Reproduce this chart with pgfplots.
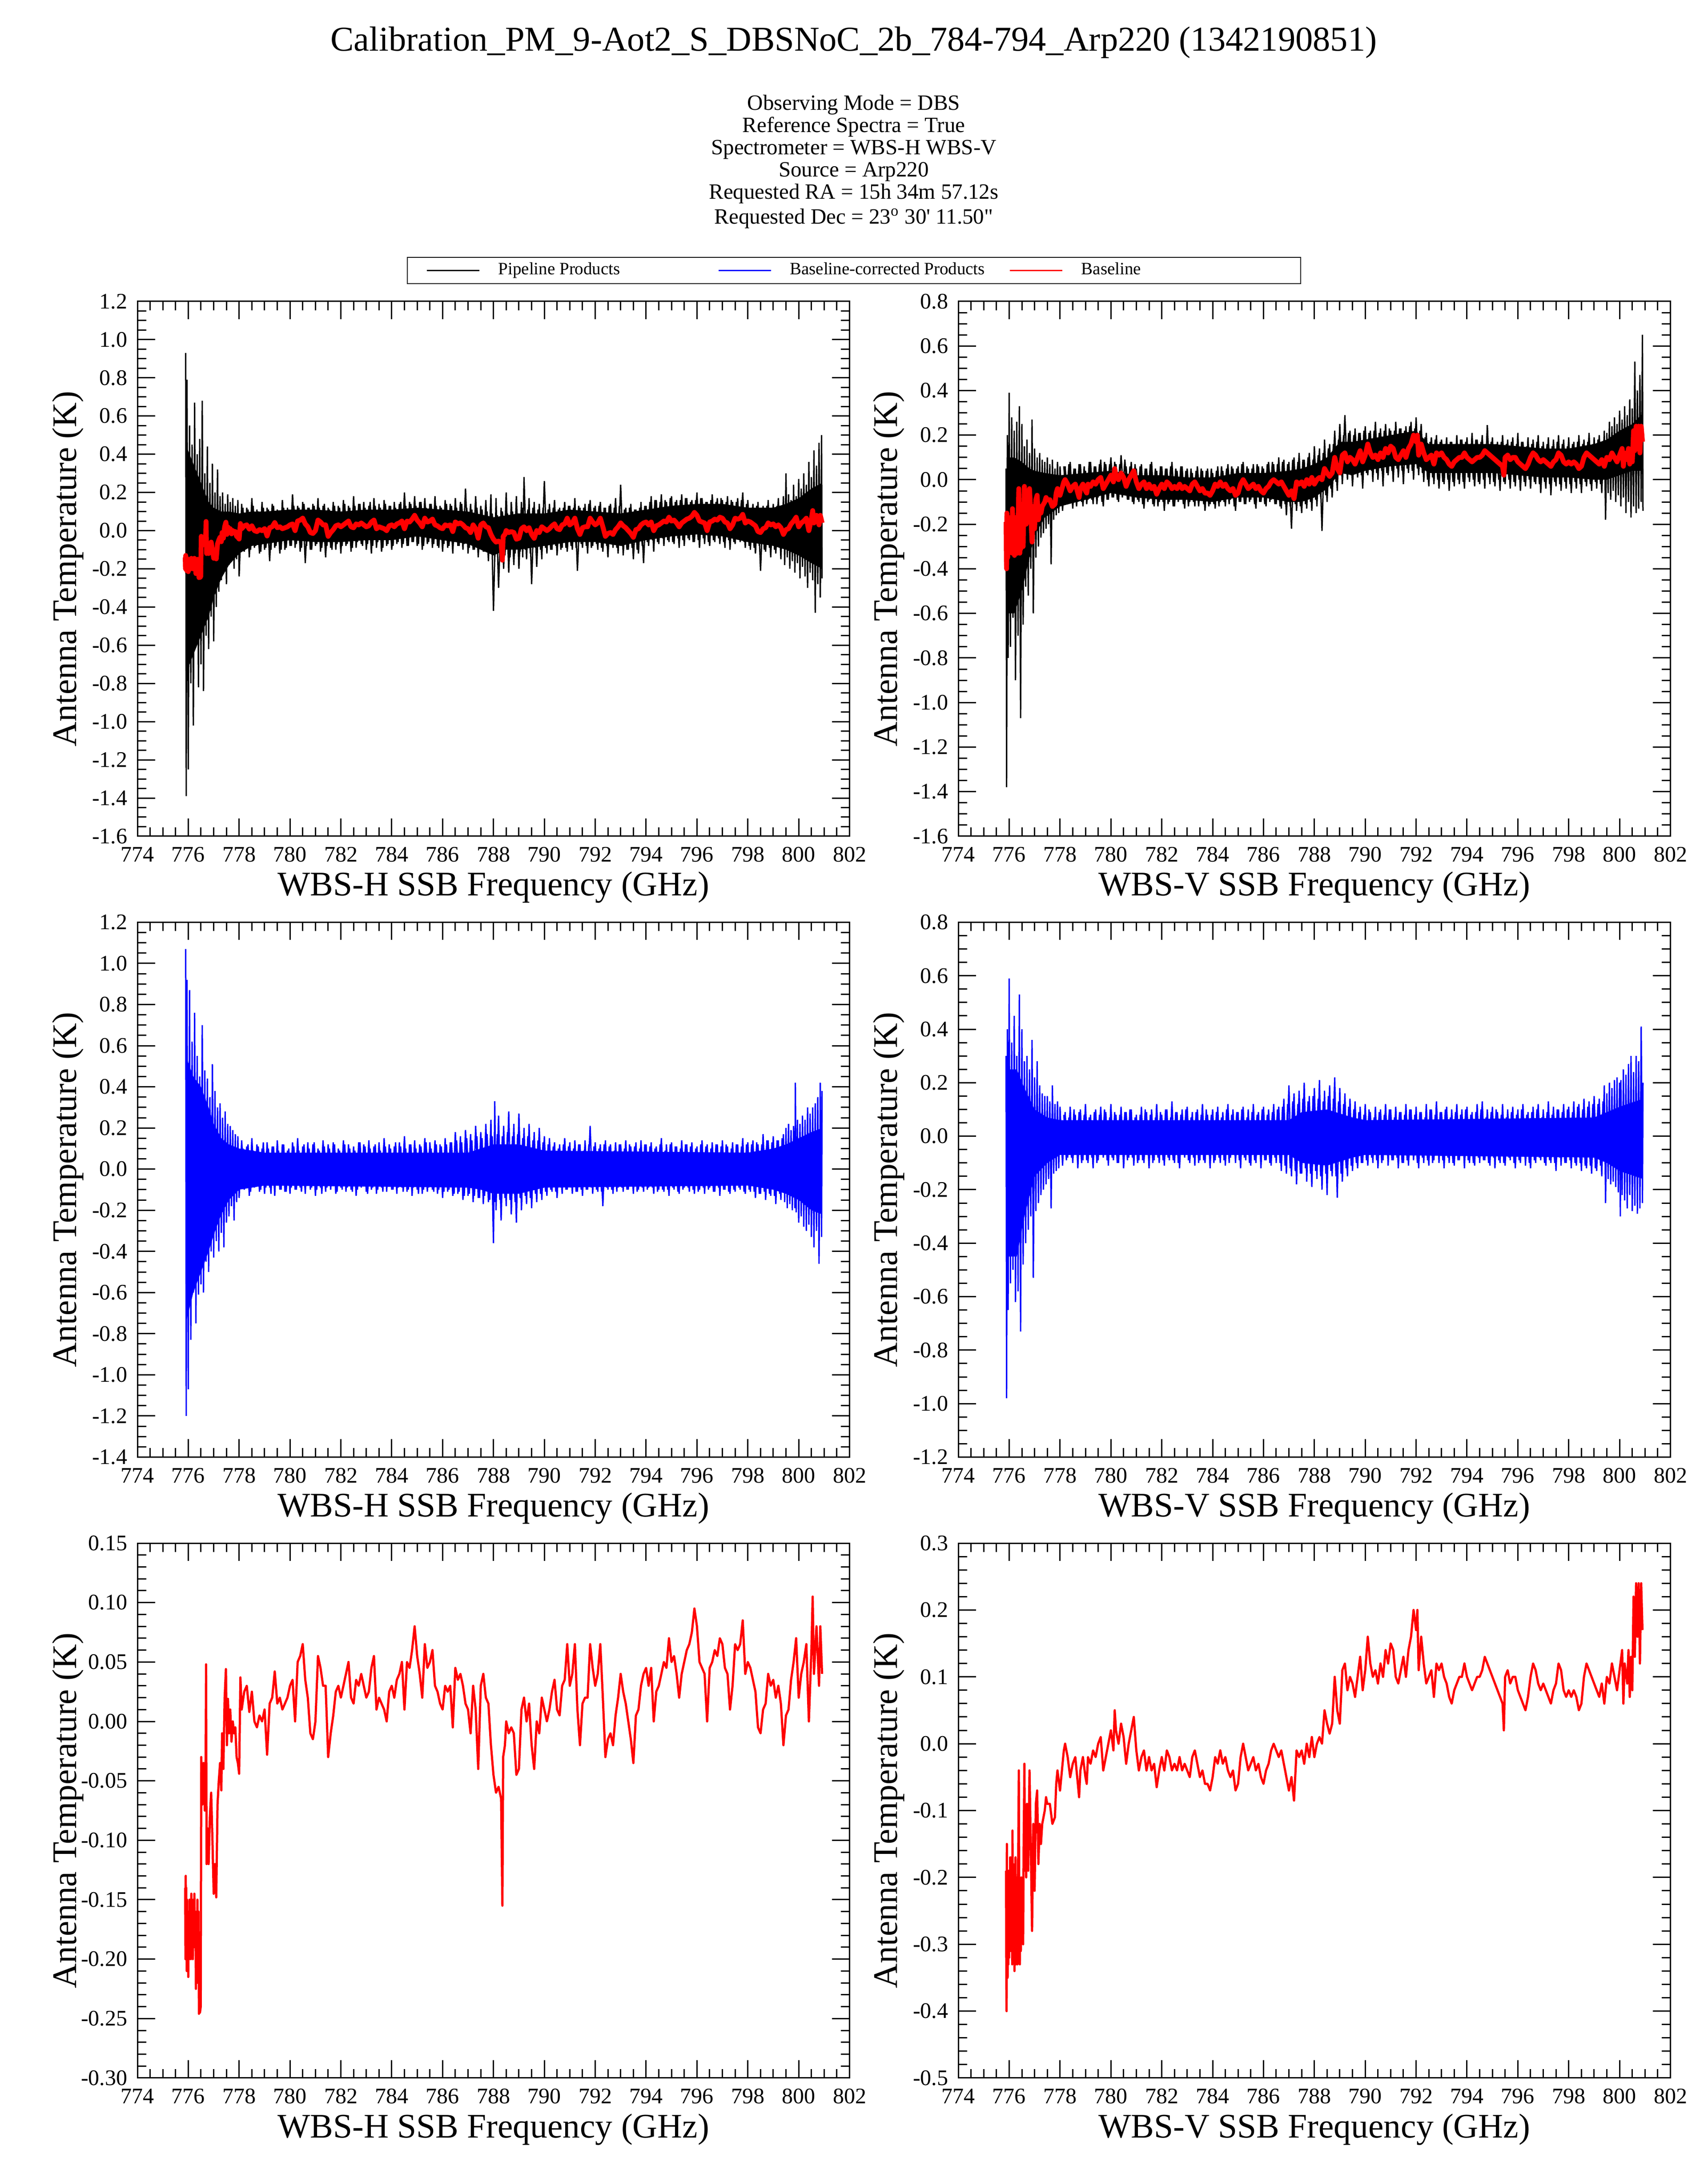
\documentclass[border=0pt]{standalone}
\usepackage{fontspec}
\setmainfont{Liberation Serif}
\newfontfamily\rawserif{Liberation Serif}
\usepackage{pgfplots}
\pgfplotsset{compat=1.18}
\usepackage{pgfplotstable}

% ---------------- baselines ----------------
\pgfplotstableread[row sep=\\]{
x y\\
775.88 -0.14\\ 775.89 -0.20\\ 775.90 -0.13\\ 775.91 -0.19\\ 775.92 -0.14\\ 775.94 -0.21\\ 775.95 -0.15\\ 775.97 -0.20\\
775.98 -0.16\\ 776.00 -0.215\\ 776.02 -0.16\\ 776.04 -0.20\\ 776.05 -0.15\\ 776.07 -0.19\\ 776.09 -0.16\\ 776.10 -0.20\\
776.12 -0.145\\ 776.14 -0.19\\ 776.16 -0.16\\ 776.18 -0.20\\ 776.20 -0.15\\ 776.22 -0.19\\ 776.24 -0.145\\ 776.26 -0.18\\
776.28 -0.16\\ 776.30 -0.225\\ 776.32 -0.17\\ 776.34 -0.22\\ 776.36 -0.15\\ 776.38 -0.20\\ 776.40 -0.16\\ 776.42 -0.246\\
776.44 -0.20\\ 776.46 -0.245\\ 776.49 -0.24\\ 776.51 -0.03\\ 776.55 -0.07\\
776.60 -0.035\\ 776.65 -0.075\\ 776.68 -0.05\\ 776.70 0.048\\ 776.72 -0.12\\ 776.76 -0.09\\ 776.80 -0.12\\ 776.85 -0.08\\
776.90 -0.06\\ 776.95 -0.10\\ 777.00 -0.145\\ 777.05 -0.12\\ 777.10 -0.148\\ 777.15 -0.07\\ 777.20 -0.05\\ 777.25 -0.035\\
777.30 -0.058\\ 777.33 -0.01\\ 777.38 -0.04\\ 777.43 0.02\\ 777.48 0.044\\ 777.52 -0.02\\ 777.56 0.019\\ 777.60 -0.01\\
777.65 0.01\\ 777.70 -0.017\\ 777.75 0.0\\ 777.80 -0.01\\ 777.85 -0.005\\ 777.90 -0.03\\ 777.95 -0.035\\ 778.00 -0.044\\
778.05 0.037\\ 778.10 0.01\\ 778.2 0.025\\ 778.3 0.03\\ 778.4 0.008\\ 778.5 0.025\\ 778.6 0.0\\ 778.7 -0.005\\
778.8 0.005\\ 778.9 0.0\\ 779.0 0.01\\ 779.1 -0.028\\ 779.2 0.015\\ 779.3 0.02\\ 779.4 0.042\\ 779.5 0.015\\
779.6 0.02\\ 779.7 0.01\\ 779.8 0.015\\ 779.9 0.02\\ 780.0 0.03\\ 780.1 0.035\\ 780.2 0.0\\ 780.3 0.05\\
780.4 0.055\\ 780.5 0.065\\ 780.6 0.035\\ 780.7 0.02\\ 780.8 -0.01\\ 780.9 -0.015\\ 781.0 0.0\\ 781.1 0.055\\
781.2 0.045\\ 781.3 0.03\\ 781.4 0.03\\ 781.5 -0.03\\ 781.6 -0.01\\ 781.7 0.005\\ 781.8 0.025\\ 781.9 0.03\\
782.0 0.02\\ 782.1 0.03\\ 782.2 0.04\\ 782.3 0.05\\ 782.4 0.02\\ 782.5 0.015\\ 782.6 0.035\\ 782.7 0.03\\
782.8 0.04\\ 782.9 0.03\\ 783.0 0.02\\ 783.1 0.025\\ 783.2 0.045\\ 783.3 0.055\\ 783.4 0.01\\ 783.5 0.02\\
783.6 0.015\\ 783.7 0.01\\ 783.8 0.0\\ 783.9 0.025\\ 784.0 0.03\\ 784.1 0.02\\ 784.2 0.035\\ 784.3 0.04\\
784.4 0.05\\ 784.5 0.01\\ 784.6 0.05\\ 784.7 0.045\\ 784.8 0.06\\ 784.9 0.08\\ 785.0 0.055\\ 785.1 0.04\\
785.2 0.02\\ 785.3 0.065\\ 785.4 0.045\\ 785.5 0.05\\ 785.6 0.06\\ 785.7 0.03\\ 785.8 0.025\\ 785.9 0.015\\
786.0 0.01\\ 786.1 0.03\\ 786.2 0.025\\ 786.3 0.03\\ 786.4 -0.005\\ 786.5 0.045\\ 786.6 0.035\\ 786.7 0.04\\
786.8 0.03\\ 786.9 0.015\\ 787.0 0.01\\ 787.1 -0.01\\ 787.2 0.03\\ 787.3 0.01\\ 787.4 -0.04\\ 787.5 0.03\\
787.6 0.04\\ 787.7 0.02\\ 787.8 0.015\\ 787.9 -0.02\\ 788.0 -0.045\\ 788.1 -0.06\\ 788.2 -0.055\\ 788.3 -0.065\\
788.35 -0.155\\ 788.38 -0.03\\ 788.45 -0.02\\ 788.5 0.0\\ 788.6 -0.01\\ 788.7 -0.005\\ 788.8 -0.01\\ 788.9 -0.045\\
789.0 -0.04\\ 789.1 0.01\\ 789.2 0.02\\ 789.3 0.0\\ 789.4 0.015\\ 789.5 -0.02\\ 789.6 -0.04\\ 789.7 0.0\\
789.8 -0.01\\ 789.9 0.02\\ 790.0 0.01\\ 790.1 0.0\\ 790.2 0.01\\ 790.3 0.025\\ 790.4 0.035\\ 790.5 0.01\\
790.6 0.005\\ 790.7 0.03\\ 790.8 0.035\\ 790.9 0.065\\ 791.0 0.03\\ 791.1 0.04\\ 791.2 0.065\\ 791.3 0.01\\
791.4 -0.02\\ 791.5 0.015\\ 791.6 0.02\\ 791.7 0.02\\ 791.8 0.065\\ 791.9 0.045\\ 792.0 0.03\\ 792.1 0.04\\
792.2 0.065\\ 792.3 0.02\\ 792.4 -0.03\\ 792.5 -0.015\\ 792.6 -0.01\\ 792.7 -0.02\\ 792.8 0.005\\ 792.9 0.02\\
793.0 0.04\\ 793.1 0.025\\ 793.2 0.015\\ 793.3 0.0\\ 793.4 -0.015\\ 793.5 -0.035\\ 793.6 0.005\\ 793.7 0.01\\
793.8 0.03\\ 793.9 0.04\\ 794.0 0.045\\ 794.1 0.03\\ 794.2 0.045\\ 794.3 0.0\\ 794.4 0.025\\ 794.5 0.03\\
794.6 0.04\\ 794.7 0.05\\ 794.8 0.045\\ 794.9 0.07\\ 795.0 0.05\\ 795.1 0.055\\ 795.2 0.04\\ 795.3 0.02\\
795.4 0.04\\ 795.5 0.05\\ 795.6 0.06\\ 795.7 0.065\\ 795.8 0.075\\ 795.9 0.095\\ 796.0 0.08\\ 796.1 0.05\\
796.2 0.045\\ 796.3 0.04\\ 796.4 0.0\\ 796.5 0.045\\ 796.6 0.05\\ 796.7 0.06\\ 796.8 0.055\\ 796.9 0.07\\
797.0 0.065\\ 797.1 0.045\\ 797.2 0.04\\ 797.3 0.01\\ 797.4 0.03\\ 797.5 0.065\\ 797.6 0.06\\ 797.7 0.065\\
797.8 0.085\\ 797.9 0.04\\ 798.0 0.05\\ 798.1 0.045\\ 798.2 0.035\\ 798.3 0.025\\ 798.4 -0.005\\ 798.5 -0.01\\
798.6 0.01\\ 798.7 0.015\\ 798.8 0.04\\ 798.9 0.03\\ 799.0 0.035\\ 799.1 0.02\\ 799.2 0.03\\ 799.3 0.015\\
799.4 -0.02\\ 799.5 0.005\\ 799.6 0.01\\ 799.7 0.035\\ 799.8 0.05\\ 799.9 0.07\\ 800.0 0.02\\ 800.1 0.04\\
800.2 0.05\\ 800.3 0.065\\ 800.4 0.0\\ 800.5 0.06\\ 800.55 0.105\\ 800.6 0.04\\ 800.7 0.08\\ 800.8 0.03\\
800.85 0.08\\ 800.92 0.04\\
}\baseH

\pgfplotstableread[row sep=\\]{
x y\\
775.88 -0.19\\ 775.89 -0.36\\ 775.90 -0.40\\ 775.91 -0.15\\ 775.92 -0.30\\ 775.93 -0.20\\ 775.94 -0.35\\ 775.95 -0.22\\
775.97 -0.33\\ 775.98 -0.19\\ 776.00 -0.32\\ 776.01 -0.20\\ 776.03 -0.30\\ 776.04 -0.17\\ 776.06 -0.31\\ 776.07 -0.22\\
776.09 -0.28\\ 776.10 -0.17\\ 776.12 -0.33\\ 776.13 -0.13\\ 776.15 -0.29\\ 776.16 -0.18\\ 776.18 -0.32\\ 776.19 -0.21\\
776.21 -0.34\\ 776.22 -0.19\\ 776.24 -0.30\\ 776.25 -0.17\\ 776.27 -0.33\\ 776.28 -0.22\\ 776.30 -0.31\\ 776.31 -0.20\\
776.33 -0.33\\ 776.35 -0.20\\ 776.38 -0.04\\ 776.40 -0.26\\ 776.42 -0.33\\ 776.44 -0.22\\ 776.46 -0.31\\ 776.48 -0.20\\
776.50 -0.28\\ 776.52 -0.21\\ 776.55 -0.30\\ 776.57 -0.15\\ 776.60 -0.03\\ 776.62 -0.19\\ 776.65 -0.12\\ 776.67 -0.20\\
776.70 -0.09\\ 776.75 -0.19\\ 776.80 -0.04\\ 776.85 -0.15\\ 776.90 -0.28\\ 776.95 -0.12\\
777.00 -0.22\\ 777.05 -0.09\\ 777.10 -0.07\\ 777.15 -0.18\\ 777.20 -0.12\\ 777.25 -0.15\\ 777.30 -0.12\\ 777.40 -0.10\\
777.45 -0.08\\ 777.50 -0.09\\ 777.60 -0.09\\ 777.70 -0.12\\ 777.80 -0.11\\ 777.85 -0.06\\ 777.90 -0.04\\ 778.00 -0.07\\
778.1 -0.03\\ 778.15 -0.01\\ 778.2 0.0\\ 778.3 -0.02\\ 778.4 -0.05\\ 778.5 -0.03\\ 778.6 -0.02\\ 778.7 -0.06\\
778.75 -0.08\\ 778.8 -0.04\\ 778.9 -0.02\\ 779.0 -0.05\\ 779.05 -0.06\\ 779.1 -0.02\\ 779.2 -0.03\\ 779.3 -0.01\\
779.4 -0.02\\ 779.5 0.0\\ 779.6 0.01\\ 779.7 -0.04\\ 779.8 -0.02\\ 779.9 0.0\\ 780.0 0.02\\ 780.1 -0.01\\
780.15 0.05\\ 780.2 0.02\\ 780.3 0.0\\ 780.4 0.03\\ 780.5 0.01\\ 780.6 -0.03\\ 780.7 0.0\\ 780.8 0.02\\
780.9 0.04\\ 781.0 -0.01\\ 781.1 -0.04\\ 781.2 -0.02\\ 781.3 -0.01\\ 781.4 -0.04\\ 781.5 -0.02\\ 781.6 -0.04\\
781.7 -0.03\\ 781.8 -0.065\\ 781.9 -0.04\\ 782.0 -0.02\\ 782.1 -0.04\\ 782.2 -0.01\\ 782.3 -0.02\\ 782.4 -0.04\\
782.5 -0.03\\ 782.6 -0.04\\ 782.7 -0.02\\ 782.8 -0.04\\ 782.9 -0.03\\ 783.0 -0.04\\ 783.1 -0.05\\ 783.2 -0.02\\
783.3 -0.01\\ 783.4 -0.03\\ 783.5 -0.05\\ 783.6 -0.04\\ 783.7 -0.06\\ 783.8 -0.06\\ 783.9 -0.07\\ 784.0 -0.05\\
784.1 -0.02\\ 784.2 -0.03\\ 784.3 -0.01\\ 784.4 -0.03\\ 784.5 -0.02\\ 784.6 -0.04\\ 784.7 -0.05\\ 784.8 -0.04\\
784.9 -0.07\\ 785.0 -0.06\\ 785.1 -0.02\\ 785.2 0.0\\ 785.3 -0.02\\ 785.4 -0.04\\ 785.5 -0.03\\ 785.6 -0.02\\
785.7 -0.04\\ 785.8 -0.03\\ 785.9 -0.05\\ 786.0 -0.06\\ 786.1 -0.04\\ 786.2 -0.03\\ 786.3 -0.01\\ 786.4 0.0\\
786.5 -0.01\\ 786.6 -0.02\\ 786.7 -0.01\\ 786.8 -0.03\\ 786.9 -0.05\\ 787.0 -0.07\\ 787.1 -0.05\\ 787.2 -0.085\\
787.3 -0.01\\ 787.4 -0.02\\ 787.5 -0.01\\ 787.6 -0.03\\ 787.7 0.0\\ 787.8 -0.02\\ 787.9 0.01\\ 788.0 -0.02\\
788.1 0.0\\ 788.2 0.01\\ 788.3 0.0\\ 788.4 0.05\\ 788.5 0.03\\ 788.6 0.015\\ 788.7 0.03\\ 788.8 0.10\\
788.9 0.05\\ 789.0 0.03\\ 789.1 0.11\\ 789.2 0.12\\ 789.3 0.08\\ 789.4 0.10\\ 789.5 0.09\\ 789.6 0.07\\
789.7 0.10\\ 789.8 0.13\\ 789.9 0.08\\ 790.0 0.11\\ 790.1 0.16\\ 790.2 0.12\\ 790.3 0.10\\ 790.4 0.11\\
790.5 0.09\\ 790.6 0.12\\ 790.7 0.10\\ 790.8 0.14\\ 790.9 0.12\\ 791.0 0.15\\ 791.1 0.14\\ 791.2 0.10\\
791.3 0.09\\ 791.4 0.11\\ 791.5 0.13\\ 791.6 0.10\\ 791.7 0.14\\ 791.8 0.16\\ 791.9 0.20\\ 792.0 0.17\\
792.05 0.20\\ 792.1 0.11\\ 792.2 0.16\\ 792.3 0.12\\ 792.4 0.09\\ 792.5 0.10\\ 792.6 0.11\\ 792.7 0.07\\
792.8 0.12\\ 792.9 0.11\\ 793.0 0.12\\ 793.1 0.10\\ 793.2 0.09\\ 793.3 0.07\\ 793.4 0.06\\ 793.5 0.08\\
793.6 0.09\\ 793.7 0.10\\ 793.8 0.10\\ 793.9 0.12\\ 794.0 0.10\\ 794.1 0.09\\ 794.2 0.08\\ 794.3 0.09\\
794.4 0.10\\ 794.5 0.10\\ 794.6 0.11\\ 794.7 0.13\\ 794.8 0.12\\ 794.9 0.11\\ 795.0 0.10\\ 795.1 0.09\\
795.2 0.08\\ 795.3 0.07\\ 795.4 0.06\\ 795.45 0.02\\ 795.5 0.10\\ 795.6 0.11\\ 795.7 0.09\\ 795.8 0.10\\
795.9 0.10\\ 796.0 0.08\\ 796.1 0.07\\ 796.2 0.06\\ 796.3 0.05\\ 796.4 0.07\\ 796.5 0.10\\ 796.6 0.12\\
796.7 0.11\\ 796.8 0.09\\ 796.9 0.08\\ 797.0 0.09\\ 797.1 0.08\\ 797.2 0.07\\ 797.3 0.06\\ 797.4 0.08\\
797.5 0.09\\ 797.6 0.12\\ 797.7 0.11\\ 797.8 0.08\\ 797.9 0.07\\ 798.0 0.08\\ 798.1 0.07\\ 798.2 0.08\\
798.3 0.07\\ 798.4 0.05\\ 798.5 0.06\\ 798.6 0.10\\ 798.7 0.12\\ 798.8 0.11\\ 798.9 0.10\\ 799.0 0.09\\
799.1 0.08\\ 799.2 0.07\\ 799.3 0.09\\ 799.4 0.06\\ 799.5 0.10\\ 799.6 0.09\\ 799.7 0.12\\ 799.8 0.10\\
799.9 0.08\\ 800.0 0.11\\ 800.1 0.14\\ 800.15 0.06\\ 800.2 0.12\\ 800.3 0.09\\ 800.35 0.14\\ 800.4 0.07\\
800.45 0.13\\ 800.5 0.08\\ 800.55 0.22\\ 800.6 0.13\\ 800.65 0.24\\ 800.7 0.16\\ 800.75 0.24\\ 800.8 0.12\\
800.85 0.24\\ 800.9 0.17\\
}\baseV

% ---------------- dense noise cores (outline: upper edge, then lower edge back) ----------------
\pgfplotstableread[row sep=\\]{
x y\\
775.9 0.45\\ 776.2 0.35\\ 776.5 0.25\\ 776.8 0.15\\ 777.0 0.12\\ 777.3 0.10\\ 777.6 0.10\\ 778.0 0.09\\ 778.5 0.10\\
779.0 0.10\\ 780.0 0.11\\ 781.0 0.11\\ 782.0 0.10\\ 783.0 0.11\\ 784.0 0.11\\ 785.0 0.12\\ 786.0 0.11\\ 787.0 0.10\\
788.0 0.07\\ 788.5 0.08\\ 789.0 0.09\\ 790.0 0.09\\ 791.0 0.11\\ 792.0 0.10\\ 793.0 0.09\\ 794.0 0.11\\ 795.0 0.13\\
796.0 0.14\\ 797.0 0.14\\ 798.0 0.12\\ 799.0 0.12\\ 799.5 0.14\\ 800.0 0.17\\ 800.5 0.22\\ 800.92 0.25\\
800.92 -0.20\\ 800.5 -0.17\\ 800.0 -0.13\\ 799.5 -0.10\\ 799.0 -0.08\\ 798.0 -0.06\\ 797.0 -0.03\\ 796.0 -0.02\\
795.0 -0.03\\ 794.0 -0.05\\ 793.0 -0.08\\ 792.0 -0.06\\ 791.0 -0.06\\ 790.0 -0.08\\ 789.0 -0.10\\ 788.5 -0.10\\
788.0 -0.13\\ 787.0 -0.07\\ 786.0 -0.05\\ 785.0 -0.03\\ 784.0 -0.05\\ 783.0 -0.05\\ 782.0 -0.06\\ 781.0 -0.06\\
780.0 -0.05\\ 779.0 -0.07\\ 778.5 -0.08\\ 778.0 -0.12\\ 777.6 -0.18\\ 777.3 -0.25\\ 777.0 -0.35\\ 776.8 -0.45\\
776.5 -0.55\\ 776.2 -0.65\\ 775.9 -0.75\\
}\bandHp

\pgfplotstableread[row sep=\\]{
x y\\
775.9 0.10\\ 776.2 0.10\\ 776.5 0.08\\ 776.8 0.05\\ 777.0 0.04\\ 777.4 0.03\\ 778.0 0.02\\ 779.0 0.03\\ 780.0 0.04\\
781.0 0.02\\ 782.0 0.02\\ 783.0 0.01\\ 784.0 0.01\\ 785.0 0.03\\ 786.0 0.03\\ 787.0 0.04\\ 787.5 0.05\\ 788.0 0.07\\
788.5 0.10\\ 789.0 0.17\\ 789.5 0.17\\ 790.0 0.18\\ 791.0 0.20\\ 792.0 0.22\\ 792.5 0.16\\ 793.0 0.16\\ 794.0 0.16\\
795.0 0.16\\ 796.0 0.15\\ 797.0 0.14\\ 798.0 0.14\\ 799.0 0.16\\ 799.5 0.18\\ 800.0 0.22\\ 800.5 0.25\\ 800.92 0.30\\
800.92 0.04\\ 800.5 0.04\\ 800.0 0.02\\ 799.5 0.0\\ 799.0 0.0\\ 798.0 0.01\\ 797.0 0.01\\ 796.0 0.02\\ 795.0 0.03\\
794.0 0.03\\ 793.0 0.03\\ 792.5 0.03\\ 792.0 0.07\\ 791.0 0.06\\ 790.0 0.04\\ 789.5 0.02\\ 789.0 0.03\\ 788.5 -0.04\\
788.0 -0.08\\ 787.5 -0.10\\ 787.0 -0.10\\ 786.0 -0.08\\ 785.0 -0.08\\ 784.0 -0.10\\ 783.0 -0.09\\ 782.0 -0.09\\
781.0 -0.08\\ 780.0 -0.06\\ 779.0 -0.09\\ 778.0 -0.12\\ 777.4 -0.17\\ 777.0 -0.25\\ 776.8 -0.35\\ 776.5 -0.50\\
776.2 -0.60\\ 775.9 -0.60\\
}\bandVp

\pgfplotstableread[row sep=\\]{
x y\\
775.9 0.55\\ 776.2 0.45\\ 776.5 0.40\\ 776.8 0.30\\ 777.0 0.22\\ 777.3 0.15\\ 777.6 0.12\\ 778.0 0.10\\ 779.0 0.08\\
787.0 0.08\\ 787.5 0.10\\ 788.0 0.12\\ 789.0 0.12\\ 790.0 0.09\\ 798.0 0.08\\ 799.0 0.10\\ 799.5 0.12\\ 800.0 0.15\\
800.5 0.18\\ 800.92 0.20\\
800.92 -0.22\\ 800.5 -0.20\\ 800.0 -0.15\\ 799.5 -0.12\\ 799.0 -0.10\\ 798.0 -0.08\\ 790.0 -0.09\\ 789.0 -0.12\\
788.0 -0.12\\ 787.5 -0.10\\ 787.0 -0.09\\ 779.0 -0.08\\ 778.0 -0.10\\ 777.6 -0.15\\ 777.3 -0.22\\ 777.0 -0.32\\
776.8 -0.40\\ 776.5 -0.50\\ 776.2 -0.60\\ 775.9 -0.75\\
}\bandHc

\pgfplotstableread[row sep=\\]{
x y\\
775.9 0.25\\ 776.3 0.25\\ 776.6 0.18\\ 777.0 0.10\\ 777.5 0.07\\ 778.0 0.06\\ 787.0 0.06\\ 787.5 0.09\\ 788.5 0.10\\
789.5 0.07\\ 790.0 0.06\\ 799.0 0.07\\ 799.5 0.09\\ 800.0 0.11\\ 800.92 0.14\\
800.92 -0.16\\ 800.0 -0.13\\ 799.5 -0.10\\ 799.0 -0.08\\ 790.0 -0.07\\ 789.5 -0.08\\ 788.5 -0.11\\ 787.5 -0.10\\
787.0 -0.07\\ 778.0 -0.07\\ 777.5 -0.10\\ 777.0 -0.15\\ 776.6 -0.30\\ 776.3 -0.45\\ 775.9 -0.45\\
}\bandVc

% ---------------- noise extremes ----------------
\pgfplotstableread[row sep=\\]{
x y\\
775.90 0.93\\ 775.92 -1.39\\ 775.95 0.79\\ 776.00 -1.25\\ 776.05 0.55\\ 776.10 -0.80\\ 776.15 0.45\\ 776.20 -1.02\\
776.25 0.67\\ 776.30 -0.60\\ 776.35 0.40\\ 776.40 -0.82\\ 776.45 0.48\\ 776.50 -0.70\\ 776.55 0.68\\ 776.60 -0.84\\
776.65 0.30\\ 776.70 -0.55\\ 776.75 0.44\\ 776.80 -0.62\\ 776.85 0.25\\ 776.90 -0.45\\ 776.95 0.35\\ 777.00 -0.58\\
777.05 0.20\\ 777.10 -0.40\\ 777.15 0.32\\ 777.20 -0.32\\ 777.25 0.18\\ 777.30 -0.26\\ 777.35 0.20\\ 777.40 -0.22\\
777.45 0.14\\ 777.50 -0.28\\ 777.55 0.19\\ 777.60 -0.18\\ 777.65 0.15\\ 777.70 -0.16\\ 777.75 0.17\\ 777.80 -0.20\\
777.85 0.13\\ 777.90 -0.15\\ 777.95 0.16\\ 778.00 -0.24\\
778.1 0.14\\ 778.2 -0.11\\ 778.3 0.12\\ 778.4 -0.14\\ 778.5 0.17\\ 778.6 -0.09\\ 778.7 0.11\\ 778.8 -0.12\\
778.9 0.15\\ 779.0 -0.10\\ 779.1 0.12\\ 779.2 -0.16\\ 779.3 0.14\\ 779.4 -0.09\\ 779.5 0.11\\ 779.6 -0.12\\
779.7 0.16\\ 779.8 -0.10\\ 779.9 0.12\\ 780.0 -0.08\\ 780.1 0.19\\ 780.2 -0.09\\ 780.3 0.13\\ 780.4 -0.11\\
780.5 0.15\\ 780.6 -0.17\\ 780.7 0.12\\ 780.8 -0.10\\ 780.9 0.14\\ 781.0 -0.08\\ 781.1 0.17\\ 781.2 -0.11\\
781.3 0.13\\ 781.4 -0.14\\ 781.5 0.12\\ 781.6 -0.09\\ 781.7 0.15\\ 781.8 -0.10\\ 781.9 0.13\\ 782.0 -0.12\\
782.1 0.16\\ 782.2 -0.08\\ 782.3 0.13\\ 782.4 -0.11\\ 782.5 0.18\\ 782.6 -0.09\\ 782.7 0.14\\ 782.8 -0.07\\
782.9 0.15\\ 783.0 -0.10\\ 783.1 0.13\\ 783.2 -0.12\\ 783.3 0.17\\ 783.4 -0.09\\ 783.5 0.14\\ 783.6 -0.11\\
783.7 0.16\\ 783.8 -0.08\\ 783.9 0.13\\ 784.0 -0.10\\ 784.1 0.15\\ 784.2 -0.07\\ 784.3 0.14\\ 784.4 -0.09\\
784.5 0.20\\ 784.6 -0.08\\ 784.7 0.15\\ 784.8 -0.06\\ 784.9 0.18\\ 785.0 -0.08\\ 785.1 0.15\\ 785.2 -0.10\\
785.3 0.17\\ 785.4 -0.07\\ 785.5 0.14\\ 785.6 -0.09\\ 785.7 0.18\\ 785.8 -0.08\\ 785.9 0.13\\ 786.0 -0.11\\
786.1 0.16\\ 786.2 -0.09\\ 786.3 0.14\\ 786.4 -0.12\\ 786.5 0.17\\ 786.6 -0.08\\ 786.7 0.15\\ 786.8 -0.10\\
786.9 0.22\\ 787.0 -0.12\\ 787.1 0.14\\ 787.2 -0.10\\ 787.3 0.18\\ 787.4 -0.14\\ 787.5 0.13\\ 787.6 -0.11\\
787.7 0.16\\ 787.8 -0.16\\ 787.9 0.19\\ 788.0 -0.42\\ 788.1 0.17\\ 788.2 -0.30\\ 788.3 0.12\\ 788.4 -0.20\\
788.5 0.20\\ 788.6 -0.22\\ 788.7 0.15\\ 788.8 -0.18\\ 788.9 0.18\\ 789.0 -0.20\\ 789.1 0.15\\ 789.15 -0.14\\
789.2 0.28\\ 789.3 -0.15\\ 789.4 0.17\\ 789.5 -0.28\\ 789.6 0.15\\ 789.7 -0.19\\ 789.8 0.14\\ 789.9 -0.15\\
790.0 0.26\\ 790.1 -0.12\\ 790.2 0.14\\ 790.3 -0.10\\ 790.4 0.16\\ 790.5 -0.13\\ 790.6 0.12\\ 790.7 -0.09\\
790.8 0.15\\ 790.9 -0.11\\ 791.0 0.13\\ 791.1 -0.10\\ 791.2 0.17\\ 791.3 -0.21\\ 791.4 0.12\\ 791.5 -0.09\\
791.6 0.14\\ 791.7 -0.12\\ 791.8 0.16\\ 791.9 -0.08\\ 792.0 0.13\\ 792.1 -0.10\\ 792.2 0.15\\ 792.3 -0.11\\
792.4 0.12\\ 792.5 -0.14\\ 792.6 0.14\\ 792.7 -0.09\\ 792.8 0.17\\ 792.9 -0.12\\ 793.0 0.24\\ 793.1 -0.13\\
793.2 0.12\\ 793.3 -0.10\\ 793.4 0.14\\ 793.5 -0.15\\ 793.6 0.11\\ 793.7 -0.12\\ 793.8 0.15\\ 793.9 -0.17\\
794.0 0.13\\ 794.1 -0.08\\ 794.2 0.18\\ 794.3 -0.11\\ 794.4 0.16\\ 794.5 -0.07\\ 794.6 0.19\\ 794.7 -0.08\\
794.8 0.15\\ 794.9 -0.06\\ 795.0 0.18\\ 795.1 -0.07\\ 795.2 0.16\\ 795.3 -0.09\\ 795.4 0.19\\ 795.5 -0.08\\
795.6 0.17\\ 795.7 -0.05\\ 795.8 0.16\\ 795.9 -0.06\\ 796.0 0.20\\ 796.1 -0.09\\ 796.2 0.17\\ 796.3 -0.07\\
796.4 0.15\\ 796.5 -0.08\\ 796.6 0.19\\ 796.7 -0.06\\ 796.8 0.17\\ 796.9 -0.07\\ 797.0 0.16\\ 797.1 -0.09\\
797.2 0.18\\ 797.3 -0.10\\ 797.4 0.15\\ 797.5 -0.07\\ 797.6 0.17\\ 797.7 -0.06\\ 797.8 0.20\\ 797.9 -0.09\\
798.0 0.16\\ 798.1 -0.10\\ 798.2 0.14\\ 798.3 -0.12\\ 798.4 0.15\\ 798.5 -0.21\\ 798.6 0.13\\ 798.7 -0.11\\
798.8 0.16\\ 798.9 -0.14\\ 799.0 0.14\\ 799.1 -0.12\\ 799.2 0.17\\ 799.3 -0.15\\
799.40 0.18\\ 799.45 -0.18\\ 799.50 0.30\\ 799.55 -0.14\\ 799.60 0.19\\ 799.65 -0.20\\ 799.70 0.16\\ 799.75 -0.16\\
799.80 0.24\\ 799.85 -0.22\\ 799.90 0.18\\ 799.95 -0.17\\ 800.00 0.27\\ 800.05 -0.25\\ 800.10 0.22\\ 800.15 -0.19\\
800.20 0.30\\ 800.25 -0.24\\ 800.30 0.24\\ 800.35 -0.30\\ 800.40 0.36\\ 800.45 -0.22\\ 800.50 0.28\\ 800.55 -0.26\\
800.60 0.42\\ 800.65 -0.43\\ 800.70 0.34\\ 800.75 -0.28\\ 800.80 0.46\\ 800.85 -0.35\\ 800.90 0.50\\ 800.92 -0.25\\
}\zzHp

\pgfplotstableread[row sep=\\]{
x y\\
778.15 0.12\\ 778.25 -0.09\\ 778.35 0.11\\ 778.45 -0.10\\ 778.55 0.13\\ 778.65 -0.08\\ 778.75 0.10\\ 778.85 -0.11\\
778.95 0.12\\ 779.05 -0.09\\ 779.15 0.11\\ 779.25 -0.10\\ 779.35 0.13\\ 779.45 -0.08\\ 779.55 0.10\\ 779.65 -0.10\\
779.75 0.12\\ 779.85 -0.09\\ 779.95 0.11\\ 780.05 -0.08\\ 780.15 0.13\\ 780.25 -0.07\\ 780.35 0.12\\ 780.45 -0.09\\
780.55 0.14\\ 780.65 -0.08\\ 780.75 0.12\\ 780.85 -0.10\\ 780.95 0.13\\ 781.05 -0.07\\ 781.15 0.12\\ 781.25 -0.09\\
781.35 0.14\\ 781.45 -0.08\\ 781.55 0.11\\ 781.65 -0.10\\ 781.75 0.13\\ 781.85 -0.07\\ 781.95 0.12\\ 782.05 -0.08\\
782.15 0.14\\ 782.25 -0.07\\ 782.35 0.12\\ 782.45 -0.09\\ 782.55 0.13\\ 782.65 -0.06\\ 782.75 0.14\\ 782.85 -0.08\\
782.95 0.12\\ 783.05 -0.07\\ 783.15 0.15\\ 783.25 -0.08\\ 783.35 0.13\\ 783.45 -0.06\\ 783.55 0.12\\ 783.65 -0.09\\
783.75 0.14\\ 783.85 -0.07\\ 783.95 0.13\\ 784.05 -0.08\\ 784.15 0.12\\ 784.25 -0.06\\ 784.35 0.15\\ 784.45 -0.07\\
784.55 0.13\\ 784.65 -0.08\\ 784.75 0.14\\ 784.85 -0.06\\ 784.95 0.13\\ 785.05 -0.07\\ 785.15 0.15\\ 785.25 -0.08\\
785.35 0.12\\ 785.45 -0.06\\ 785.55 0.14\\ 785.65 -0.07\\ 785.75 0.13\\ 785.85 -0.09\\ 785.95 0.12\\ 786.05 -0.07\\
786.15 0.14\\ 786.25 -0.08\\ 786.35 0.13\\ 786.45 -0.06\\ 786.55 0.12\\ 786.65 -0.08\\ 786.75 0.14\\ 786.85 -0.07\\
786.95 0.12\\ 787.05 -0.09\\ 787.15 0.11\\ 787.25 -0.10\\ 787.35 0.12\\ 787.45 -0.08\\ 787.55 0.11\\ 787.65 -0.11\\
787.75 0.10\\ 787.85 -0.12\\ 787.95 0.09\\ 788.05 -0.14\\ 788.15 0.08\\ 788.25 -0.15\\ 788.35 0.10\\ 788.45 -0.13\\
788.55 0.09\\ 788.65 -0.14\\ 788.75 0.10\\ 788.85 -0.12\\ 788.95 0.09\\ 789.05 -0.11\\ 789.15 0.12\\ 789.25 -0.10\\
789.35 0.11\\ 789.45 -0.12\\ 789.55 0.12\\ 789.65 -0.09\\ 789.75 0.11\\ 789.85 -0.10\\ 789.95 0.12\\ 790.05 -0.09\\
790.15 0.11\\ 790.25 -0.10\\ 790.35 0.12\\ 790.45 -0.08\\ 790.55 0.11\\ 790.65 -0.10\\ 790.75 0.12\\ 790.85 -0.09\\
790.95 0.13\\ 791.05 -0.08\\ 791.15 0.12\\ 791.25 -0.09\\ 791.35 0.13\\ 791.45 -0.07\\ 791.55 0.12\\ 791.65 -0.08\\
791.75 0.14\\ 791.85 -0.09\\ 791.95 0.12\\ 792.05 -0.07\\ 792.15 0.13\\ 792.25 -0.09\\ 792.35 0.12\\ 792.45 -0.08\\
792.55 0.13\\ 792.65 -0.07\\ 792.75 0.12\\ 792.85 -0.09\\ 792.95 0.13\\ 793.05 -0.08\\ 793.15 0.11\\ 793.25 -0.10\\
793.35 0.12\\ 793.45 -0.09\\ 793.55 0.11\\ 793.65 -0.10\\ 793.75 0.12\\ 793.85 -0.08\\ 793.95 0.13\\ 794.05 -0.06\\
794.15 0.15\\ 794.25 -0.05\\ 794.35 0.16\\ 794.45 -0.06\\ 794.55 0.15\\ 794.65 -0.04\\ 794.75 0.16\\ 794.85 -0.05\\
794.95 0.17\\ 795.05 -0.06\\ 795.15 0.15\\ 795.25 -0.04\\ 795.35 0.16\\ 795.45 -0.05\\ 795.55 0.17\\ 795.65 -0.04\\
795.75 0.15\\ 795.85 -0.06\\ 795.95 0.16\\ 796.05 -0.05\\ 796.15 0.17\\ 796.25 -0.04\\ 796.35 0.15\\ 796.45 -0.06\\
796.55 0.16\\ 796.65 -0.05\\ 796.75 0.15\\ 796.85 -0.04\\ 796.95 0.17\\ 797.05 -0.06\\ 797.15 0.15\\ 797.25 -0.05\\
797.35 0.16\\ 797.45 -0.06\\ 797.55 0.15\\ 797.65 -0.04\\ 797.75 0.16\\ 797.85 -0.06\\ 797.95 0.14\\ 798.05 -0.08\\
798.15 0.12\\ 798.25 -0.09\\ 798.35 0.13\\ 798.45 -0.08\\ 798.55 0.12\\ 798.65 -0.10\\ 798.75 0.13\\ 798.85 -0.09\\
798.95 0.12\\ 799.05 -0.10\\ 799.15 0.13\\ 799.25 -0.09\\ 799.35 0.12\\
}\fzHp

\pgfplotstableread[row sep=\\]{
x y\\
775.88 0.05\\ 775.90 -1.38\\ 775.93 0.20\\ 775.96 -0.80\\ 776.00 0.39\\ 776.05 -0.75\\ 776.10 0.28\\ 776.15 -0.62\\
776.20 0.22\\ 776.25 -0.90\\ 776.30 0.26\\ 776.35 -0.70\\ 776.40 0.33\\ 776.45 -1.07\\ 776.50 0.25\\ 776.55 -0.65\\
776.60 0.15\\ 776.65 -0.48\\ 776.70 0.18\\ 776.75 -0.52\\ 776.80 0.12\\ 776.85 -0.40\\ 776.90 0.27\\ 776.95 -0.60\\
777.00 0.14\\ 777.05 -0.35\\ 777.10 0.10\\ 777.15 -0.30\\ 777.20 0.12\\ 777.25 -0.26\\ 777.30 0.09\\ 777.35 -0.24\\
777.40 0.08\\ 777.45 -0.22\\ 777.50 0.10\\ 777.55 -0.20\\ 777.60 0.07\\ 777.65 -0.38\\ 777.70 0.09\\ 777.75 -0.18\\
777.80 0.05\\ 777.85 -0.16\\ 777.90 0.08\\ 777.95 -0.15\\ 778.00 0.06\\
778.1 -0.14\\ 778.2 0.06\\ 778.3 -0.11\\ 778.4 0.08\\ 778.5 -0.13\\ 778.6 0.05\\ 778.7 -0.10\\ 778.8 0.07\\
778.9 -0.12\\ 779.0 0.04\\ 779.1 -0.09\\ 779.2 0.08\\ 779.3 -0.11\\ 779.4 0.06\\ 779.5 -0.08\\ 779.6 0.09\\
779.7 -0.12\\ 779.8 0.07\\ 779.9 -0.09\\ 780.0 0.10\\ 780.1 -0.08\\ 780.2 0.07\\ 780.3 -0.10\\ 780.4 0.11\\
780.5 -0.07\\ 780.6 0.06\\ 780.7 -0.09\\ 780.8 0.08\\ 780.9 -0.11\\ 781.0 0.05\\ 781.1 -0.10\\ 781.2 0.07\\
781.3 -0.13\\ 781.4 0.05\\ 781.5 -0.09\\ 781.6 0.08\\ 781.7 -0.12\\ 781.8 0.04\\ 781.9 -0.10\\ 782.0 0.06\\
782.1 -0.14\\ 782.2 0.05\\ 782.3 -0.10\\ 782.4 0.08\\ 782.5 -0.12\\ 782.6 0.04\\ 782.7 -0.09\\ 782.8 0.06\\
782.9 -0.13\\ 783.0 0.05\\ 783.1 -0.10\\ 783.2 0.03\\ 783.3 -0.12\\ 783.4 0.06\\ 783.5 -0.09\\ 783.6 0.04\\
783.7 -0.14\\ 783.8 0.05\\ 783.9 -0.11\\ 784.0 0.03\\ 784.1 -0.13\\ 784.2 0.06\\ 784.3 -0.10\\ 784.4 0.04\\
784.5 -0.12\\ 784.6 0.07\\ 784.7 -0.09\\ 784.8 0.05\\ 784.9 -0.14\\ 785.0 0.06\\ 785.1 -0.10\\ 785.2 0.08\\
785.3 -0.11\\ 785.4 0.05\\ 785.5 -0.09\\ 785.6 0.07\\ 785.7 -0.13\\ 785.8 0.06\\ 785.9 -0.10\\ 786.0 0.05\\
786.1 -0.12\\ 786.2 0.08\\ 786.3 -0.09\\ 786.4 0.07\\ 786.5 -0.11\\ 786.6 0.10\\ 786.7 -0.13\\ 786.8 0.09\\
786.9 -0.16\\ 787.0 0.08\\ 787.1 -0.22\\ 787.2 0.10\\ 787.3 -0.14\\ 787.4 0.12\\ 787.5 -0.15\\ 787.6 0.09\\
787.7 -0.13\\ 787.8 0.12\\ 787.9 -0.14\\ 788.0 0.15\\ 788.1 -0.12\\ 788.2 0.14\\ 788.3 -0.23\\ 788.4 0.18\\
788.5 -0.10\\ 788.6 0.16\\ 788.7 -0.08\\ 788.8 0.22\\ 788.9 -0.05\\ 789.0 0.25\\ 789.1 -0.02\\ 789.2 0.29\\
789.3 0.0\\ 789.4 0.22\\ 789.5 -0.03\\ 789.6 0.23\\ 789.7 0.01\\ 789.8 0.21\\ 789.9 -0.04\\ 790.0 0.24\\
790.1 0.02\\ 790.2 0.22\\ 790.3 -0.01\\ 790.4 0.26\\ 790.5 0.0\\ 790.6 0.23\\ 790.7 -0.03\\ 790.8 0.25\\
790.9 0.02\\ 791.0 0.22\\ 791.1 -0.01\\ 791.2 0.26\\ 791.3 0.01\\ 791.4 0.23\\ 791.5 -0.02\\ 791.6 0.24\\
791.7 0.03\\ 791.8 0.26\\ 791.9 0.0\\ 792.0 0.28\\ 792.1 0.02\\ 792.2 0.25\\ 792.3 -0.01\\ 792.4 0.21\\
792.5 -0.03\\ 792.6 0.19\\ 792.7 -0.02\\ 792.8 0.20\\ 792.9 -0.04\\ 793.0 0.18\\ 793.1 -0.02\\ 793.2 0.19\\
793.3 -0.05\\ 793.4 0.17\\ 793.5 -0.03\\ 793.6 0.20\\ 793.7 -0.02\\ 793.8 0.18\\ 793.9 -0.04\\ 794.0 0.19\\
794.1 -0.01\\ 794.2 0.21\\ 794.3 -0.03\\ 794.4 0.18\\ 794.5 -0.02\\ 794.6 0.20\\ 794.7 -0.04\\ 794.8 0.245\\
794.9 -0.02\\ 795.0 0.19\\ 795.1 -0.03\\ 795.2 0.17\\ 795.3 -0.05\\ 795.4 0.20\\ 795.5 -0.02\\ 795.6 0.18\\
795.7 -0.04\\ 795.8 0.19\\ 795.9 -0.03\\ 796.0 0.21\\ 796.1 -0.05\\ 796.2 0.17\\ 796.3 -0.03\\ 796.4 0.19\\
796.5 -0.04\\ 796.6 0.18\\ 796.7 -0.02\\ 796.8 0.20\\ 796.9 -0.06\\ 797.0 0.17\\ 797.1 -0.04\\ 797.2 0.19\\
797.3 -0.07\\ 797.4 0.18\\ 797.5 -0.03\\ 797.6 0.20\\ 797.7 -0.05\\ 797.8 0.18\\ 797.9 -0.04\\ 798.0 0.19\\
798.1 -0.06\\ 798.2 0.17\\ 798.3 -0.04\\ 798.4 0.20\\ 798.5 -0.06\\ 798.6 0.18\\ 798.7 -0.03\\ 798.8 0.21\\
798.9 -0.05\\ 799.0 0.19\\ 799.1 -0.04\\ 799.2 0.20\\ 799.3 -0.06\\
799.40 0.22\\ 799.45 -0.18\\ 799.50 0.21\\ 799.55 -0.06\\ 799.60 0.26\\ 799.65 -0.09\\ 799.70 0.24\\ 799.75 -0.05\\
799.80 0.28\\ 799.85 -0.10\\ 799.90 0.25\\ 799.95 -0.07\\ 800.00 0.31\\ 800.05 -0.12\\ 800.10 0.27\\ 800.15 -0.08\\
800.20 0.33\\ 800.25 -0.15\\ 800.30 0.29\\ 800.35 -0.10\\ 800.40 0.36\\ 800.45 -0.17\\ 800.50 0.32\\ 800.55 -0.12\\
800.60 0.53\\ 800.65 -0.15\\ 800.70 0.40\\ 800.75 -0.13\\ 800.80 0.47\\ 800.85 -0.10\\ 800.90 0.65\\ 800.92 -0.14\\
}\zzVp

\pgfplotstableread[row sep=\\]{
x y\\
778.15 0.06\\ 778.25 -0.11\\ 778.35 0.07\\ 778.45 -0.10\\ 778.55 0.05\\ 778.65 -0.12\\ 778.75 0.07\\ 778.85 -0.10\\
778.95 0.06\\ 779.05 -0.11\\ 779.15 0.08\\ 779.25 -0.09\\ 779.35 0.06\\ 779.45 -0.11\\ 779.55 0.07\\ 779.65 -0.10\\
779.75 0.08\\ 779.85 -0.09\\ 779.95 0.07\\ 780.05 -0.08\\ 780.15 0.08\\ 780.25 -0.09\\ 780.35 0.07\\ 780.45 -0.08\\
780.55 0.09\\ 780.65 -0.09\\ 780.75 0.06\\ 780.85 -0.10\\ 780.95 0.07\\ 781.05 -0.09\\ 781.15 0.06\\ 781.25 -0.11\\
781.35 0.05\\ 781.45 -0.10\\ 781.55 0.07\\ 781.65 -0.11\\ 781.75 0.05\\ 781.85 -0.12\\ 781.95 0.06\\ 782.05 -0.10\\
782.15 0.05\\ 782.25 -0.11\\ 782.35 0.06\\ 782.45 -0.12\\ 782.55 0.05\\ 782.65 -0.10\\ 782.75 0.06\\ 782.85 -0.11\\
782.95 0.04\\ 783.05 -0.12\\ 783.15 0.05\\ 783.25 -0.10\\ 783.35 0.04\\ 783.45 -0.12\\ 783.55 0.05\\ 783.65 -0.11\\
783.75 0.04\\ 783.85 -0.12\\ 783.95 0.05\\ 784.05 -0.11\\ 784.15 0.04\\ 784.25 -0.12\\ 784.35 0.06\\ 784.45 -0.10\\
784.55 0.05\\ 784.65 -0.11\\ 784.75 0.06\\ 784.85 -0.12\\ 784.95 0.05\\ 785.05 -0.10\\ 785.15 0.07\\ 785.25 -0.11\\
785.35 0.06\\ 785.45 -0.10\\ 785.55 0.05\\ 785.65 -0.11\\ 785.75 0.07\\ 785.85 -0.10\\ 785.95 0.06\\ 786.05 -0.11\\
786.15 0.07\\ 786.25 -0.10\\ 786.35 0.08\\ 786.45 -0.11\\ 786.55 0.07\\ 786.65 -0.12\\ 786.75 0.08\\ 786.85 -0.11\\
786.95 0.07\\ 787.05 -0.12\\ 787.15 0.09\\ 787.25 -0.11\\ 787.35 0.08\\ 787.45 -0.12\\ 787.55 0.09\\ 787.65 -0.11\\
787.75 0.10\\ 787.85 -0.10\\ 787.95 0.09\\ 788.05 -0.09\\ 788.15 0.11\\ 788.25 -0.08\\ 788.35 0.12\\ 788.45 -0.07\\
788.55 0.14\\ 788.65 -0.04\\ 788.75 0.16\\ 788.85 -0.01\\ 788.95 0.18\\ 789.05 0.02\\ 789.15 0.20\\ 789.25 0.03\\
789.35 0.21\\ 789.45 0.02\\ 789.55 0.20\\ 789.65 0.03\\ 789.75 0.21\\ 789.85 0.02\\ 789.95 0.22\\ 790.05 0.03\\
790.15 0.21\\ 790.25 0.04\\ 790.35 0.22\\ 790.45 0.03\\ 790.55 0.21\\ 790.65 0.04\\ 790.75 0.22\\ 790.85 0.03\\
790.95 0.23\\ 791.05 0.04\\ 791.15 0.22\\ 791.25 0.05\\ 791.35 0.23\\ 791.45 0.04\\ 791.55 0.22\\ 791.65 0.05\\
791.75 0.24\\ 791.85 0.04\\ 791.95 0.23\\ 792.05 0.05\\ 792.15 0.22\\ 792.25 0.03\\ 792.35 0.19\\ 792.45 0.0\\
792.55 0.17\\ 792.65 0.01\\ 792.75 0.18\\ 792.85 0.0\\ 792.95 0.17\\ 793.05 -0.01\\ 793.15 0.16\\ 793.25 0.0\\
793.35 0.17\\ 793.45 -0.01\\ 793.55 0.16\\ 793.65 0.0\\ 793.75 0.18\\ 793.85 -0.01\\ 793.95 0.17\\ 794.05 0.01\\
794.15 0.16\\ 794.25 0.0\\ 794.35 0.18\\ 794.45 -0.01\\ 794.55 0.17\\ 794.65 0.0\\ 794.75 0.16\\ 794.85 0.01\\
794.95 0.17\\ 795.05 -0.01\\ 795.15 0.16\\ 795.25 0.0\\ 795.35 0.17\\ 795.45 -0.01\\ 795.55 0.16\\ 795.65 0.0\\
795.75 0.17\\ 795.85 -0.01\\ 795.95 0.16\\ 796.05 0.0\\ 796.15 0.17\\ 796.25 -0.01\\ 796.35 0.15\\ 796.45 0.0\\
796.55 0.16\\ 796.65 -0.01\\ 796.75 0.17\\ 796.85 -0.02\\ 796.95 0.15\\ 797.05 -0.01\\ 797.15 0.16\\ 797.25 -0.02\\
797.35 0.15\\ 797.45 -0.01\\ 797.55 0.17\\ 797.65 -0.02\\ 797.75 0.16\\ 797.85 -0.01\\ 797.95 0.15\\ 798.05 -0.02\\
798.15 0.16\\ 798.25 -0.01\\ 798.35 0.17\\ 798.45 -0.02\\ 798.55 0.16\\ 798.65 -0.01\\ 798.75 0.17\\ 798.85 -0.02\\
798.95 0.16\\ 799.05 -0.01\\ 799.15 0.18\\ 799.25 -0.02\\ 799.35 0.17\\
}\fzVp

\pgfplotstableread[row sep=\\]{
x y\\
775.90 1.07\\ 775.92 -1.20\\ 775.95 0.92\\ 776.00 -1.07\\ 776.05 0.87\\ 776.10 -0.83\\ 776.15 0.62\\ 776.20 -0.60\\
776.25 0.76\\ 776.30 -0.75\\ 776.35 0.55\\ 776.40 -0.61\\ 776.45 0.45\\ 776.50 -0.56\\ 776.55 0.70\\ 776.60 -0.60\\
776.65 0.48\\ 776.70 -0.45\\ 776.75 0.44\\ 776.80 -0.50\\ 776.85 0.35\\ 776.90 -0.40\\ 776.95 0.51\\ 777.00 -0.43\\
777.05 0.38\\ 777.10 -0.35\\ 777.15 0.30\\ 777.20 -0.40\\ 777.25 0.32\\ 777.30 -0.31\\ 777.35 0.25\\ 777.40 -0.38\\
777.45 0.28\\ 777.50 -0.26\\ 777.55 0.22\\ 777.60 -0.23\\ 777.65 0.21\\ 777.70 -0.18\\ 777.75 0.19\\ 777.80 -0.25\\
777.85 0.17\\ 777.90 -0.16\\ 777.95 0.16\\ 778.00 -0.14\\
778.1 0.14\\ 778.2 -0.10\\ 778.3 0.11\\ 778.4 -0.13\\ 778.5 0.15\\ 778.6 -0.09\\ 778.7 0.12\\ 778.8 -0.11\\
778.9 0.10\\ 779.0 -0.12\\ 779.1 0.13\\ 779.2 -0.09\\ 779.3 0.11\\ 779.4 -0.13\\ 779.5 0.14\\ 779.6 -0.10\\
779.7 0.12\\ 779.8 -0.11\\ 779.9 0.09\\ 780.0 -0.12\\ 780.1 0.13\\ 780.2 -0.10\\ 780.3 0.15\\ 780.4 -0.09\\
780.5 0.11\\ 780.6 -0.12\\ 780.7 0.13\\ 780.8 -0.10\\ 780.9 0.12\\ 781.0 -0.13\\ 781.1 0.10\\ 781.2 -0.09\\
781.3 0.14\\ 781.4 -0.11\\ 781.5 0.12\\ 781.6 -0.10\\ 781.7 0.13\\ 781.8 -0.12\\ 781.9 0.10\\ 782.0 -0.09\\
782.1 0.14\\ 782.2 -0.11\\ 782.3 0.12\\ 782.4 -0.10\\ 782.5 0.11\\ 782.6 -0.13\\ 782.7 0.13\\ 782.8 -0.09\\
782.9 0.12\\ 783.0 -0.11\\ 783.1 0.14\\ 783.2 -0.10\\ 783.3 0.11\\ 783.4 -0.12\\ 783.5 0.13\\ 783.6 -0.09\\
783.7 0.15\\ 783.8 -0.11\\ 783.9 0.12\\ 784.0 -0.10\\ 784.1 0.11\\ 784.2 -0.12\\ 784.3 0.13\\ 784.4 -0.09\\
784.5 0.16\\ 784.6 -0.11\\ 784.7 0.12\\ 784.8 -0.13\\ 784.9 0.14\\ 785.0 -0.10\\ 785.1 0.12\\ 785.2 -0.12\\
785.3 0.15\\ 785.4 -0.11\\ 785.5 0.13\\ 785.6 -0.10\\ 785.7 0.14\\ 785.8 -0.12\\ 785.9 0.12\\ 786.0 -0.14\\
786.1 0.15\\ 786.2 -0.11\\ 786.3 0.13\\ 786.4 -0.13\\ 786.5 0.18\\ 786.6 -0.12\\ 786.7 0.16\\ 786.8 -0.15\\
786.9 0.19\\ 787.0 -0.13\\ 787.1 0.17\\ 787.2 -0.16\\ 787.3 0.21\\ 787.4 -0.14\\ 787.5 0.18\\ 787.6 -0.17\\
787.7 0.22\\ 787.8 -0.16\\ 787.9 0.24\\ 788.0 -0.36\\ 788.05 0.33\\ 788.1 -0.20\\ 788.2 0.26\\ 788.3 -0.25\\
788.4 0.21\\ 788.5 -0.18\\ 788.6 0.28\\ 788.7 -0.22\\ 788.8 0.22\\ 788.9 -0.26\\ 789.0 0.27\\ 789.1 -0.20\\
789.2 0.20\\ 789.3 -0.17\\ 789.4 0.22\\ 789.5 -0.19\\ 789.6 0.18\\ 789.7 -0.16\\ 789.8 0.20\\ 789.9 -0.15\\
790.0 0.16\\ 790.1 -0.13\\ 790.2 0.15\\ 790.3 -0.11\\ 790.4 0.13\\ 790.5 -0.14\\ 790.6 0.12\\ 790.7 -0.12\\
790.8 0.15\\ 790.9 -0.10\\ 791.0 0.13\\ 791.1 -0.12\\ 791.2 0.14\\ 791.3 -0.11\\ 791.4 0.12\\ 791.5 -0.13\\
791.6 0.14\\ 791.7 -0.10\\ 791.8 0.21\\ 791.9 -0.12\\ 792.0 0.13\\ 792.1 -0.11\\ 792.2 0.12\\ 792.3 -0.18\\
792.4 0.14\\ 792.5 -0.10\\ 792.6 0.12\\ 792.7 -0.12\\ 792.8 0.13\\ 792.9 -0.09\\ 793.0 0.12\\ 793.1 -0.11\\
793.2 0.14\\ 793.3 -0.10\\ 793.4 0.11\\ 793.5 -0.12\\ 793.6 0.13\\ 793.7 -0.10\\ 793.8 0.14\\ 793.9 -0.11\\
794.0 0.12\\ 794.1 -0.09\\ 794.2 0.13\\ 794.3 -0.12\\ 794.4 0.11\\ 794.5 -0.10\\ 794.6 0.15\\ 794.7 -0.11\\
794.8 0.12\\ 794.9 -0.13\\ 795.0 0.13\\ 795.1 -0.10\\ 795.2 0.11\\ 795.3 -0.12\\ 795.4 0.14\\ 795.5 -0.09\\
795.6 0.12\\ 795.7 -0.11\\ 795.8 0.13\\ 795.9 -0.12\\ 796.0 0.11\\ 796.1 -0.10\\ 796.2 0.14\\ 796.3 -0.12\\
796.4 0.12\\ 796.5 -0.09\\ 796.6 0.13\\ 796.7 -0.11\\ 796.8 0.12\\ 796.9 -0.13\\ 797.0 0.14\\ 797.1 -0.10\\
797.2 0.11\\ 797.3 -0.12\\ 797.4 0.13\\ 797.5 -0.11\\ 797.6 0.12\\ 797.7 -0.10\\ 797.8 0.15\\ 797.9 -0.12\\
798.0 0.13\\ 798.1 -0.11\\ 798.2 0.14\\ 798.3 -0.14\\ 798.4 0.12\\ 798.5 -0.12\\ 798.6 0.17\\ 798.7 -0.15\\
798.8 0.14\\ 798.9 -0.13\\ 799.0 0.16\\ 799.1 -0.17\\ 799.2 0.14\\ 799.3 -0.15\\
799.40 0.17\\ 799.45 -0.16\\ 799.50 0.20\\ 799.55 -0.19\\ 799.60 0.22\\ 799.65 -0.17\\ 799.70 0.19\\ 799.75 -0.20\\
799.80 0.21\\ 799.85 -0.19\\ 799.87 0.42\\ 799.90 -0.21\\ 799.95 0.24\\ 800.00 -0.26\\ 800.05 0.22\\ 800.10 -0.23\\
800.15 0.26\\ 800.20 -0.28\\ 800.25 0.24\\ 800.30 -0.30\\ 800.35 0.30\\ 800.40 -0.27\\ 800.45 0.27\\ 800.50 -0.33\\
800.55 0.30\\ 800.60 -0.38\\ 800.65 0.32\\ 800.70 -0.30\\ 800.75 0.35\\ 800.80 -0.46\\ 800.85 0.42\\ 800.90 -0.33\\
800.92 0.38\\
}\zzHc

\pgfplotstableread[row sep=\\]{
x y\\
778.15 0.10\\ 778.25 -0.09\\ 778.35 0.12\\ 778.45 -0.11\\ 778.55 0.09\\ 778.65 -0.08\\ 778.75 0.11\\ 778.85 -0.10\\
778.95 0.13\\ 779.05 -0.09\\ 779.15 0.10\\ 779.25 -0.12\\ 779.35 0.11\\ 779.45 -0.08\\ 779.55 0.09\\ 779.65 -0.10\\
779.75 0.12\\ 779.85 -0.11\\ 779.95 0.10\\ 780.05 -0.09\\ 780.15 0.11\\ 780.25 -0.10\\ 780.35 0.09\\ 780.45 -0.11\\
780.55 0.12\\ 780.65 -0.08\\ 780.75 0.10\\ 780.85 -0.09\\ 780.95 0.13\\ 781.05 -0.10\\ 781.15 0.09\\ 781.25 -0.12\\
781.35 0.11\\ 781.45 -0.09\\ 781.55 0.10\\ 781.65 -0.08\\ 781.75 0.12\\ 781.85 -0.11\\ 781.95 0.09\\ 782.05 -0.10\\
782.15 0.12\\ 782.25 -0.09\\ 782.35 0.10\\ 782.45 -0.11\\ 782.55 0.09\\ 782.65 -0.10\\ 782.75 0.13\\ 782.85 -0.08\\
782.95 0.11\\ 783.05 -0.12\\ 783.15 0.10\\ 783.25 -0.09\\ 783.35 0.12\\ 783.45 -0.10\\ 783.55 0.09\\ 783.65 -0.11\\
783.75 0.11\\ 783.85 -0.08\\ 783.95 0.10\\ 784.05 -0.10\\ 784.15 0.13\\ 784.25 -0.09\\ 784.35 0.11\\ 784.45 -0.11\\
784.55 0.10\\ 784.65 -0.10\\ 784.75 0.12\\ 784.85 -0.09\\ 784.95 0.10\\ 785.05 -0.12\\ 785.15 0.11\\ 785.25 -0.10\\
785.35 0.13\\ 785.45 -0.09\\ 785.55 0.10\\ 785.65 -0.11\\ 785.75 0.12\\ 785.85 -0.10\\ 785.95 0.11\\ 786.05 -0.11\\
786.15 0.12\\ 786.25 -0.10\\ 786.35 0.13\\ 786.45 -0.12\\ 786.55 0.14\\ 786.65 -0.11\\ 786.75 0.13\\ 786.85 -0.13\\
786.95 0.15\\ 787.05 -0.12\\ 787.15 0.14\\ 787.25 -0.13\\ 787.35 0.16\\ 787.45 -0.14\\ 787.55 0.15\\ 787.65 -0.13\\
787.75 0.17\\ 787.85 -0.15\\ 787.95 0.16\\ 788.05 -0.16\\ 788.15 0.17\\ 788.25 -0.15\\ 788.35 0.16\\ 788.45 -0.14\\
788.55 0.18\\ 788.65 -0.15\\ 788.75 0.16\\ 788.85 -0.16\\ 788.95 0.17\\ 789.05 -0.14\\ 789.15 0.15\\ 789.25 -0.13\\
789.35 0.16\\ 789.45 -0.14\\ 789.55 0.14\\ 789.65 -0.12\\ 789.75 0.14\\ 789.85 -0.12\\ 789.95 0.13\\ 790.05 -0.11\\
790.15 0.12\\ 790.25 -0.10\\ 790.35 0.11\\ 790.45 -0.11\\ 790.55 0.10\\ 790.65 -0.09\\ 790.75 0.12\\ 790.85 -0.10\\
790.95 0.11\\ 791.05 -0.09\\ 791.15 0.10\\ 791.25 -0.11\\ 791.35 0.12\\ 791.45 -0.10\\ 791.55 0.09\\ 791.65 -0.10\\
791.75 0.12\\ 791.85 -0.09\\ 791.95 0.11\\ 792.05 -0.10\\ 792.15 0.10\\ 792.25 -0.11\\ 792.35 0.12\\ 792.45 -0.09\\
792.55 0.11\\ 792.65 -0.10\\ 792.75 0.09\\ 792.85 -0.11\\ 792.95 0.12\\ 793.05 -0.09\\ 793.15 0.10\\ 793.25 -0.10\\
793.35 0.12\\ 793.45 -0.08\\ 793.55 0.11\\ 793.65 -0.11\\ 793.75 0.10\\ 793.85 -0.09\\ 793.95 0.12\\ 794.05 -0.10\\
794.15 0.11\\ 794.25 -0.09\\ 794.35 0.10\\ 794.45 -0.11\\ 794.55 0.12\\ 794.65 -0.10\\ 794.75 0.09\\ 794.85 -0.10\\
794.95 0.12\\ 795.05 -0.09\\ 795.15 0.11\\ 795.25 -0.11\\ 795.35 0.10\\ 795.45 -0.10\\ 795.55 0.12\\ 795.65 -0.09\\
795.75 0.11\\ 795.85 -0.10\\ 795.95 0.10\\ 796.05 -0.11\\ 796.15 0.12\\ 796.25 -0.09\\ 796.35 0.11\\ 796.45 -0.10\\
796.55 0.10\\ 796.65 -0.11\\ 796.75 0.12\\ 796.85 -0.09\\ 796.95 0.11\\ 797.05 -0.10\\ 797.15 0.12\\ 797.25 -0.11\\
797.35 0.10\\ 797.45 -0.10\\ 797.55 0.12\\ 797.65 -0.09\\ 797.75 0.11\\ 797.85 -0.11\\ 797.95 0.12\\ 798.05 -0.10\\
798.15 0.12\\ 798.25 -0.11\\ 798.35 0.13\\ 798.45 -0.12\\ 798.55 0.12\\ 798.65 -0.11\\ 798.75 0.14\\ 798.85 -0.12\\
798.95 0.13\\ 799.05 -0.13\\ 799.15 0.14\\ 799.25 -0.12\\ 799.35 0.15\\
}\fzHc

\pgfplotstableread[row sep=\\]{
x y\\
775.88 0.30\\ 775.90 -0.98\\ 775.93 0.40\\ 775.96 -0.65\\ 776.00 0.59\\ 776.05 -0.55\\ 776.10 0.35\\ 776.15 -0.50\\
776.20 0.45\\ 776.25 -0.62\\ 776.30 0.30\\ 776.35 -0.58\\ 776.40 0.53\\ 776.45 -0.73\\ 776.50 0.40\\ 776.55 -0.48\\
776.60 0.28\\ 776.65 -0.40\\ 776.70 0.30\\ 776.75 -0.35\\ 776.80 0.25\\ 776.85 -0.30\\ 776.90 0.36\\ 776.95 -0.53\\
777.00 0.22\\ 777.05 -0.28\\ 777.10 0.28\\ 777.15 -0.25\\ 777.20 0.19\\ 777.25 -0.22\\ 777.30 0.16\\ 777.35 -0.20\\
777.40 0.15\\ 777.45 -0.18\\ 777.50 0.15\\ 777.55 -0.16\\ 777.60 0.13\\ 777.65 -0.27\\ 777.70 0.19\\ 777.75 -0.14\\
777.80 0.12\\ 777.85 -0.13\\ 777.90 0.13\\ 777.95 -0.12\\ 778.00 0.11\\
778.1 -0.11\\ 778.2 0.09\\ 778.3 -0.08\\ 778.4 0.11\\ 778.5 -0.10\\ 778.6 0.08\\ 778.7 -0.12\\ 778.8 0.10\\
778.9 -0.09\\ 779.0 0.12\\ 779.1 -0.10\\ 779.2 0.08\\ 779.3 -0.12\\ 779.4 0.10\\ 779.5 -0.09\\ 779.6 0.11\\
779.7 -0.08\\ 779.8 0.09\\ 779.9 -0.11\\ 780.0 0.12\\ 780.1 -0.09\\ 780.2 0.08\\ 780.3 -0.10\\ 780.4 0.11\\
780.5 -0.12\\ 780.6 0.09\\ 780.7 -0.08\\ 780.8 0.10\\ 780.9 -0.11\\ 781.0 0.08\\ 781.1 -0.09\\ 781.2 0.11\\
781.3 -0.10\\ 781.4 0.09\\ 781.5 -0.12\\ 781.6 0.10\\ 781.7 -0.09\\ 781.8 0.12\\ 781.9 -0.10\\ 782.0 0.08\\
782.1 -0.11\\ 782.2 0.10\\ 782.3 -0.09\\ 782.4 0.13\\ 782.5 -0.10\\ 782.6 0.09\\ 782.7 -0.12\\ 782.8 0.10\\
782.9 -0.08\\ 783.0 0.11\\ 783.1 -0.10\\ 783.2 0.09\\ 783.3 -0.11\\ 783.4 0.10\\ 783.5 -0.09\\ 783.6 0.12\\
783.7 -0.10\\ 783.8 0.08\\ 783.9 -0.12\\ 784.0 0.10\\ 784.1 -0.09\\ 784.2 0.11\\ 784.3 -0.10\\ 784.4 0.09\\
784.5 -0.11\\ 784.6 0.12\\ 784.7 -0.08\\ 784.8 0.10\\ 784.9 -0.10\\ 785.0 0.09\\ 785.1 -0.12\\ 785.2 0.11\\
785.3 -0.09\\ 785.4 0.10\\ 785.5 -0.11\\ 785.6 0.12\\ 785.7 -0.10\\ 785.8 0.09\\ 785.9 -0.12\\ 786.0 0.11\\
786.1 -0.09\\ 786.2 0.10\\ 786.3 -0.11\\ 786.4 0.12\\ 786.5 -0.10\\ 786.6 0.11\\ 786.7 -0.13\\ 786.8 0.14\\
786.9 -0.14\\ 787.0 0.19\\ 787.1 -0.15\\ 787.2 0.16\\ 787.3 -0.18\\ 787.4 0.17\\ 787.5 -0.14\\ 787.6 0.20\\
787.7 -0.17\\ 787.8 0.15\\ 787.9 -0.19\\ 788.0 0.18\\ 788.1 -0.16\\ 788.2 0.21\\ 788.3 -0.20\\ 788.4 0.17\\
788.5 -0.22\\ 788.6 0.19\\ 788.7 -0.15\\ 788.8 0.22\\ 788.9 -0.23\\ 789.0 0.18\\ 789.1 -0.17\\ 789.2 0.16\\
789.3 -0.15\\ 789.4 0.14\\ 789.5 -0.13\\ 789.6 0.13\\ 789.7 -0.12\\ 789.8 0.11\\ 789.9 -0.10\\ 790.0 0.12\\
790.1 -0.11\\ 790.2 0.09\\ 790.3 -0.10\\ 790.4 0.11\\ 790.5 -0.12\\ 790.6 0.10\\ 790.7 -0.09\\ 790.8 0.12\\
790.9 -0.11\\ 791.0 0.10\\ 791.1 -0.09\\ 791.2 0.11\\ 791.3 -0.12\\ 791.4 0.09\\ 791.5 -0.10\\ 791.6 0.12\\
791.7 -0.11\\ 791.8 0.10\\ 791.9 -0.09\\ 792.0 0.11\\ 792.1 -0.12\\ 792.2 0.09\\ 792.3 -0.10\\ 792.4 0.12\\
792.5 -0.11\\ 792.6 0.10\\ 792.7 -0.09\\ 792.8 0.13\\ 792.9 -0.10\\ 793.0 0.09\\ 793.1 -0.12\\ 793.2 0.11\\
793.3 -0.10\\ 793.4 0.10\\ 793.5 -0.11\\ 793.6 0.12\\ 793.7 -0.09\\ 793.8 0.10\\ 793.9 -0.12\\ 794.0 0.11\\
794.1 -0.10\\ 794.2 0.09\\ 794.3 -0.11\\ 794.4 0.12\\ 794.5 -0.10\\ 794.6 0.13\\ 794.7 -0.09\\ 794.8 0.10\\
794.9 -0.11\\ 795.0 0.11\\ 795.1 -0.12\\ 795.2 0.09\\ 795.3 -0.10\\ 795.4 0.12\\ 795.5 -0.11\\ 795.6 0.10\\
795.7 -0.09\\ 795.8 0.11\\ 795.9 -0.12\\ 796.0 0.10\\ 796.1 -0.10\\ 796.2 0.12\\ 796.3 -0.11\\ 796.4 0.09\\
796.5 -0.12\\ 796.6 0.11\\ 796.7 -0.10\\ 796.8 0.12\\ 796.9 -0.09\\ 797.0 0.10\\ 797.1 -0.11\\ 797.2 0.13\\
797.3 -0.10\\ 797.4 0.11\\ 797.5 -0.13\\ 797.6 0.10\\ 797.7 -0.11\\ 797.8 0.12\\ 797.9 -0.10\\ 798.0 0.11\\
798.1 -0.12\\ 798.2 0.13\\ 798.3 -0.11\\ 798.4 0.12\\ 798.5 -0.13\\ 798.6 0.14\\ 798.7 -0.12\\ 798.8 0.13\\
798.9 -0.14\\ 799.0 0.15\\ 799.1 -0.13\\ 799.2 0.14\\ 799.3 -0.15\\
799.40 0.19\\ 799.45 -0.25\\ 799.50 0.16\\ 799.55 -0.16\\ 799.60 0.20\\ 799.65 -0.18\\ 799.70 0.18\\ 799.75 -0.17\\
799.80 0.21\\ 799.85 -0.19\\ 799.90 0.22\\ 799.95 -0.21\\ 800.00 0.20\\ 800.03 -0.30\\ 800.05 0.21\\ 800.10 -0.22\\
800.15 0.25\\ 800.20 -0.24\\ 800.25 0.23\\ 800.30 -0.27\\ 800.35 0.27\\ 800.40 -0.22\\ 800.45 0.30\\ 800.50 -0.28\\
800.55 0.24\\ 800.60 -0.26\\ 800.65 0.30\\ 800.70 -0.29\\ 800.75 0.28\\ 800.80 -0.27\\ 800.85 0.41\\ 800.90 -0.25\\
800.92 0.20\\
}\zzVc

\pgfplotstableread[row sep=\\]{
x y\\
778.15 0.08\\ 778.25 -0.09\\ 778.35 0.07\\ 778.45 -0.08\\ 778.55 0.10\\ 778.65 -0.07\\ 778.75 0.09\\ 778.85 -0.10\\
778.95 0.08\\ 779.05 -0.09\\ 779.15 0.07\\ 779.25 -0.08\\ 779.35 0.09\\ 779.45 -0.10\\ 779.55 0.08\\ 779.65 -0.07\\
779.75 0.10\\ 779.85 -0.09\\ 779.95 0.07\\ 780.05 -0.08\\ 780.15 0.09\\ 780.25 -0.10\\ 780.35 0.08\\ 780.45 -0.07\\
780.55 0.09\\ 780.65 -0.09\\ 780.75 0.10\\ 780.85 -0.08\\ 780.95 0.07\\ 781.05 -0.10\\ 781.15 0.08\\ 781.25 -0.09\\
781.35 0.10\\ 781.45 -0.07\\ 781.55 0.08\\ 781.65 -0.10\\ 781.75 0.07\\ 781.85 -0.08\\ 781.95 0.09\\ 782.05 -0.09\\
782.15 0.10\\ 782.25 -0.08\\ 782.35 0.07\\ 782.45 -0.09\\ 782.55 0.09\\ 782.65 -0.10\\ 782.75 0.08\\ 782.85 -0.07\\
782.95 0.10\\ 783.05 -0.09\\ 783.15 0.07\\ 783.25 -0.08\\ 783.35 0.09\\ 783.45 -0.10\\ 783.55 0.08\\ 783.65 -0.09\\
783.75 0.10\\ 783.85 -0.07\\ 783.95 0.08\\ 784.05 -0.10\\ 784.15 0.09\\ 784.25 -0.08\\ 784.35 0.07\\ 784.45 -0.09\\
784.55 0.10\\ 784.65 -0.10\\ 784.75 0.08\\ 784.85 -0.07\\ 784.95 0.09\\ 785.05 -0.09\\ 785.15 0.10\\ 785.25 -0.08\\
785.35 0.07\\ 785.45 -0.10\\ 785.55 0.09\\ 785.65 -0.09\\ 785.75 0.08\\ 785.85 -0.07\\ 785.95 0.10\\ 786.05 -0.09\\
786.15 0.08\\ 786.25 -0.10\\ 786.35 0.09\\ 786.45 -0.08\\ 786.55 0.10\\ 786.65 -0.10\\ 786.75 0.11\\ 786.85 -0.11\\
786.95 0.12\\ 787.05 -0.12\\ 787.15 0.13\\ 787.25 -0.13\\ 787.35 0.12\\ 787.45 -0.14\\ 787.55 0.14\\ 787.65 -0.12\\
787.75 0.13\\ 787.85 -0.14\\ 787.95 0.15\\ 788.05 -0.13\\ 788.15 0.14\\ 788.25 -0.15\\ 788.35 0.13\\ 788.45 -0.14\\
788.55 0.15\\ 788.65 -0.13\\ 788.75 0.14\\ 788.85 -0.15\\ 788.95 0.13\\ 789.05 -0.14\\ 789.15 0.12\\ 789.25 -0.12\\
789.35 0.11\\ 789.45 -0.11\\ 789.55 0.10\\ 789.65 -0.10\\ 789.75 0.09\\ 789.85 -0.10\\ 789.95 0.08\\ 790.05 -0.09\\
790.15 0.10\\ 790.25 -0.08\\ 790.35 0.07\\ 790.45 -0.09\\ 790.55 0.09\\ 790.65 -0.10\\ 790.75 0.08\\ 790.85 -0.07\\
790.95 0.10\\ 791.05 -0.09\\ 791.15 0.07\\ 791.25 -0.08\\ 791.35 0.09\\ 791.45 -0.10\\ 791.55 0.08\\ 791.65 -0.09\\
791.75 0.10\\ 791.85 -0.07\\ 791.95 0.08\\ 792.05 -0.10\\ 792.15 0.09\\ 792.25 -0.08\\ 792.35 0.07\\ 792.45 -0.09\\
792.55 0.10\\ 792.65 -0.10\\ 792.75 0.08\\ 792.85 -0.07\\ 792.95 0.09\\ 793.05 -0.09\\ 793.15 0.10\\ 793.25 -0.08\\
793.35 0.07\\ 793.45 -0.10\\ 793.55 0.09\\ 793.65 -0.09\\ 793.75 0.08\\ 793.85 -0.07\\ 793.95 0.10\\ 794.05 -0.09\\
794.15 0.08\\ 794.25 -0.10\\ 794.35 0.09\\ 794.45 -0.08\\ 794.55 0.10\\ 794.65 -0.09\\ 794.75 0.07\\ 794.85 -0.10\\
794.95 0.09\\ 795.05 -0.08\\ 795.15 0.10\\ 795.25 -0.09\\ 795.35 0.08\\ 795.45 -0.10\\ 795.55 0.07\\ 795.65 -0.08\\
795.75 0.09\\ 795.85 -0.10\\ 795.95 0.08\\ 796.05 -0.09\\ 796.15 0.10\\ 796.25 -0.07\\ 796.35 0.08\\ 796.45 -0.10\\
796.55 0.09\\ 796.65 -0.09\\ 796.75 0.10\\ 796.85 -0.08\\ 796.95 0.07\\ 797.05 -0.10\\ 797.15 0.09\\ 797.25 -0.09\\
797.35 0.08\\ 797.45 -0.10\\ 797.55 0.10\\ 797.65 -0.08\\ 797.75 0.09\\ 797.85 -0.10\\ 797.95 0.10\\ 798.05 -0.09\\
798.15 0.09\\ 798.25 -0.10\\ 798.35 0.11\\ 798.45 -0.10\\ 798.55 0.10\\ 798.65 -0.11\\ 798.75 0.11\\ 798.85 -0.11\\
798.95 0.12\\ 799.05 -0.12\\ 799.15 0.12\\ 799.25 -0.11\\ 799.35 0.13\\
}\fzVc

\pgfplotsset{
  panel/.style={
    scale only axis, width=320.3pt, height=240.6pt, anchor=south west,
    xmin=774, xmax=802,
    xtick={774,776,778,780,782,784,786,788,790,792,794,796,798,800,802},
    xticklabels={\textrm{774},\textrm{776},\textrm{778},\textrm{780},\textrm{782},\textrm{784},\textrm{786},\textrm{788},
      \textrm{790},\textrm{792},\textrm{794},\textrm{796},\textrm{798},\textrm{800},\textrm{802}},
    minor x tick num=3, minor y tick num=3,
    tick align=inside, major tick length=8pt, minor tick length=4pt,
    axis line style={line width=0.6pt},
    tick style={line width=0.6pt, black},
    tick label style={font=\rmfamily\fontsize{10}{12}\selectfont},
    xticklabel style={yshift=-1.4pt},
    yticklabel style={xshift=-1pt},
    /pgf/number format/assume math mode=true,
    label style={font=\fontsize{15.5}{18}\selectfont},
    xlabel style={at={(axis description cs:0.5,-0.1114)}, anchor=base},
    ylabel style={at={(axis description cs:-0.0856,0.5)}, anchor=base},
    ylabel={Antenna Temperature (K)},
  },
  noise/.style={line width=0.6pt, line join=bevel, forget plot},
  yH/.style={ymin=-1.6, ymax=1.2,
    ytick={-1.6,-1.4,-1.2,-1.0,-0.8,-0.6,-0.4,-0.2,0,0.2,0.4,0.6,0.8,1.0,1.2},
    yticklabels={\textrm{-1.6},\textrm{-1.4},\textrm{-1.2},\textrm{-1.0},\textrm{-0.8},\textrm{-0.6},\textrm{-0.4},\textrm{-0.2},
      \textrm{0.0},\textrm{0.2},\textrm{0.4},\textrm{0.6},\textrm{0.8},\textrm{1.0},\textrm{1.2}}},
  yV/.style={ymin=-1.6, ymax=0.8,
    ytick={-1.6,-1.4,-1.2,-1.0,-0.8,-0.6,-0.4,-0.2,0,0.2,0.4,0.6,0.8},
    yticklabels={\textrm{-1.6},\textrm{-1.4},\textrm{-1.2},\textrm{-1.0},\textrm{-0.8},\textrm{-0.6},\textrm{-0.4},\textrm{-0.2},
      \textrm{0.0},\textrm{0.2},\textrm{0.4},\textrm{0.6},\textrm{0.8}}},
}

\begin{document}
\begin{tikzpicture}
\path (0,0) rectangle (768pt,981.6pt);

\node[anchor=base, font=\fontsize{15.7}{18}\selectfont] at (384pt,958.6pt)
  {Calibration\_PM\_9-Aot2\_S\_DBSNoC\_2b\_784-794\_Arp220 (1342190851)};
\begin{scope}[every node/.style={anchor=base, font=\fontsize{9.8}{11}\selectfont}]
\node at (384pt,932.0pt) {Observing Mode = DBS};
\node at (384pt,922.0pt) {Reference Spectra = True};
\node at (384pt,912.0pt) {Spectrometer = WBS-H WBS-V};
\node at (384pt,902.0pt) {Source = Arp220};
\node at (384pt,892.0pt) {Requested RA = 15h 34m 57.12s};
\node at (384pt,880.8pt) {Requested Dec = 23\textsuperscript{o} 30{\rawserif'} 11.50{\rawserif"}};
\end{scope}

% ---------- top left ----------
\begin{axis}[panel, yH, at={(61.8pt,605.4pt)}, xlabel={WBS-H SSB Frequency (GHz)},
  legend columns=3,
  legend image code/.code={\draw[#1] (0pt,0pt) -- (23.6pt,0pt);},
  legend style={at={(axis description cs:1.00625,1.0578)}, anchor=center,
    draw=black, line width=0.4pt, inner xsep=8.4pt, inner ysep=2.4pt, column sep=0pt,
    font=\fontsize{7.8}{9}\selectfont,
    nodes={inner sep=0pt, text height=5.4pt, text depth=1.6pt}}]
\addlegendimage{black, line width=0.7pt}
\addlegendimage{blue, line width=0.7pt}
\addlegendimage{red, line width=0.7pt}
\legend{\makebox[106.8pt][l]{\hspace*{8.2pt}Pipeline Products},
        \makebox[106.8pt][l]{\hspace*{8.2pt}Baseline-corrected Products},
        \makebox[98.4pt][l]{\hspace*{8.2pt}Baseline}}
\addplot[fill=black, draw=none, forget plot] table[x=x, y=y] {\bandHp};
\addplot[black, noise] table[x=x, y=y] {\zzHp};
\addplot[black, noise] table[x=x, y=y] {\fzHp};
\addplot[red, line width=2.2pt, line join=round, forget plot] table[x=x, y=y] {\baseH};
\end{axis}

% ---------- top right ----------
\begin{axis}[panel, yV, at={(431pt,605.4pt)}, xlabel={WBS-V SSB Frequency (GHz)}]
\addplot[fill=black, draw=none, forget plot] table[x=x, y=y] {\bandVp};
\addplot[black, noise] table[x=x, y=y] {\zzVp};
\addplot[black, noise] table[x=x, y=y] {\fzVp};
\addplot[red, line width=2.2pt, line join=round, forget plot] table[x=x, y=y] {\baseV};
\end{axis}

% ---------- middle left ----------
\begin{axis}[panel, at={(61.8pt,326.1pt)}, xlabel={WBS-H SSB Frequency (GHz)},
  ymin=-1.4, ymax=1.2,
  ytick={-1.4,-1.2,-1.0,-0.8,-0.6,-0.4,-0.2,0,0.2,0.4,0.6,0.8,1.0,1.2},
  yticklabels={\textrm{-1.4},\textrm{-1.2},\textrm{-1.0},\textrm{-0.8},\textrm{-0.6},\textrm{-0.4},\textrm{-0.2},
    \textrm{0.0},\textrm{0.2},\textrm{0.4},\textrm{0.6},\textrm{0.8},\textrm{1.0},\textrm{1.2}}]
\addplot[fill=blue, draw=none, forget plot] table[x=x, y=y] {\bandHc};
\addplot[blue, noise] table[x=x, y=y] {\zzHc};
\addplot[blue, noise] table[x=x, y=y] {\fzHc};
\end{axis}

% ---------- middle right ----------
\begin{axis}[panel, at={(431pt,326.1pt)}, xlabel={WBS-V SSB Frequency (GHz)},
  ymin=-1.2, ymax=0.8,
  ytick={-1.2,-1.0,-0.8,-0.6,-0.4,-0.2,0,0.2,0.4,0.6,0.8},
  yticklabels={\textrm{-1.2},\textrm{-1.0},\textrm{-0.8},\textrm{-0.6},\textrm{-0.4},\textrm{-0.2},
    \textrm{0.0},\textrm{0.2},\textrm{0.4},\textrm{0.6},\textrm{0.8}}]
\addplot[fill=blue, draw=none, forget plot] table[x=x, y=y] {\bandVc};
\addplot[blue, noise] table[x=x, y=y] {\zzVc};
\addplot[blue, noise] table[x=x, y=y] {\fzVc};
\end{axis}

% ---------- bottom left ----------
\begin{axis}[panel, at={(61.8pt,46.8pt)}, xlabel={WBS-H SSB Frequency (GHz)},
  ymin=-0.30, ymax=0.15, minor y tick num=4,
  ytick={-0.30,-0.25,-0.20,-0.15,-0.10,-0.05,0,0.05,0.10,0.15},
  yticklabels={\textrm{-0.30},\textrm{-0.25},\textrm{-0.20},\textrm{-0.15},\textrm{-0.10},\textrm{-0.05},
    \textrm{0.00},\textrm{0.05},\textrm{0.10},\textrm{0.15}}]
\addplot[red, line width=1.0pt, line join=round, forget plot] table[x=x, y=y] {\baseH};
\end{axis}

% ---------- bottom right ----------
\begin{axis}[panel, at={(431pt,46.8pt)}, xlabel={WBS-V SSB Frequency (GHz)},
  ymin=-0.5, ymax=0.3, minor y tick num=4,
  ytick={-0.5,-0.4,-0.3,-0.2,-0.1,0,0.1,0.2,0.3},
  yticklabels={\textrm{-0.5},\textrm{-0.4},\textrm{-0.3},\textrm{-0.2},\textrm{-0.1},
    \textrm{0.0},\textrm{0.1},\textrm{0.2},\textrm{0.3}}]
\addplot[red, line width=1.0pt, line join=round, forget plot] table[x=x, y=y] {\baseV};
\end{axis}
\end{tikzpicture}
\end{document}
